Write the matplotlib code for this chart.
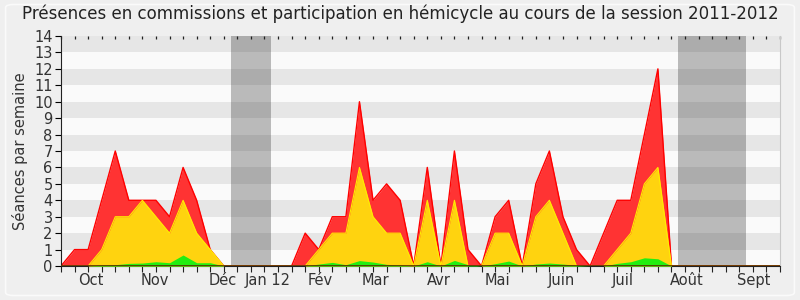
"""Présences en commissions et hémicycle, session 2011-2012."""

import matplotlib
matplotlib.use("Agg")
import matplotlib.pyplot as plt
from matplotlib.lines import TICKDOWN
from matplotlib.patches import FancyBboxPatch

# ── Données (séances par semaine) ─────────────────────────────────────────────
semaines = list(range(54))
commission = [0, 1, 1, 4, 7, 4, 4, 4, 3, 6, 4, 1, 0, 0, 0, 0, 0, 0, 2, 1,
              3, 3, 10, 4, 5, 4, 0, 6, 0, 7, 1, 0, 3, 4, 0, 5, 7, 3, 1, 0,
              2, 4, 4, 8, 12, 0, 0, 0, 0, 0, 0, 0, 0, 0]
hemicycle = [0, 0, 0, 1, 3, 3, 4, 3, 2, 4, 2, 1, 0, 0, 0, 0, 0, 0, 0, 1,
             2, 2, 6, 3, 2, 2, 0, 4, 0, 4, 0, 0, 2, 2, 0, 3, 4, 2, 0, 0,
             0, 1, 2, 5, 6, 0, 0, 0, 0, 0, 0, 0, 0, 0]
interventions = [0, 0, 0, 0.06, 0.08, 0.16, 0.18, 0.26, 0.2, 0.67, 0.2, 0.2, 0, 0, 0, 0, 0, 0, 0, 0.12,
                 0.22, 0.08, 0.33, 0.24, 0.1, 0.06, 0, 0.26, 0, 0.34, 0.08, 0, 0.14, 0.3, 0, 0.12, 0.18, 0.12, 0.04, 0,
                 0, 0.16, 0.26, 0.5, 0.44, 0, 0, 0, 0, 0, 0, 0, 0, 0]
vacances = [(12.5, 15.5), (45.5, 50.5)]
mois = ["Oct", "Nov", "Déc", "Jan 12", "Fév", "Mar", "Avr", "Mai", "Juin", "Juil", "Août", "Sept"]
mois_pos = [2.2, 6.9, 11.95, 15.2, 19.1, 23.2, 27.85, 32.2, 36.9, 41.4, 46.1, 51.05]

# ── Figure ────────────────────────────────────────────────────────────────────
fig = plt.figure(figsize=(8, 3), dpi=100, facecolor="#efefef")
fig.patches.append(FancyBboxPatch((0.007, 0.015), 0.986, 0.97,
                                  boxstyle="round,pad=0,rounding_size=0.01",
                                  transform=fig.transFigure, fc="none",
                                  ec="#fafafa", lw=1.2))
ax = fig.add_axes([0.07625, 0.1133, 0.89875, 0.7667])
ax.set_facecolor("#fafafa")

# Bandes horizontales
for k in range(1, 14, 2):
    ax.axhspan(k, k + 1, color="#e6e6e6", lw=0, zorder=0)

# Vacances parlementaires
for a, b in vacances:
    ax.axvspan(a, b, color="#282828", alpha=0.3, lw=0, zorder=1)

ax.fill_between(semaines, commission, color="#ff3333", lw=0, zorder=2)
ax.plot(semaines, commission, color="#ff0000", lw=1, zorder=2.1)
ax.fill_between(semaines, hemicycle, color="#ffd30f", lw=0, zorder=3)
ax.plot(semaines, hemicycle, color="#ffee00", lw=0.8, zorder=3.1)
ax.fill_between(semaines, interventions, color="#22ee11", lw=0, zorder=4)
ax.axhline(0, color="#5a2a00", lw=1.2, zorder=5)

ax.set_xlim(0, 53)
ax.set_ylim(0, 14)
ax.set_yticks(range(15))
ax.set_xticks(semaines)
ax.set_xticklabels([])
ax.set_xticks(mois_pos, minor=True)
ax.set_xticklabels(mois, minor=True)
ax.tick_params(axis="x", which="major", direction="out", length=4, width=0.8,
               color="#222222", top=True)
ax.tick_params(axis="x", which="minor", length=0, pad=5, labelsize=10.5,
               labelcolor="#333333")
ax.tick_params(axis="y", direction="out", length=4, width=0.8, pad=2,
               labelsize=10.5, labelcolor="#333333")
# petits traits vers l'intérieur en haut
for t in ax.xaxis.get_major_ticks():
    t.tick2line.set_marker(TICKDOWN)
    t.tick2line.set_markersize(2.5)
    t.tick2line.set_markeredgewidth(0.9)

ax.spines["top"].set_visible(False)
ax.spines["right"].set_color("#c8c8c8")
ax.spines["left"].set_color("#222222")
ax.spines["bottom"].set_color("#222222")

ax.set_ylabel("Séances par semaine", fontsize=10.5, color="#333333", labelpad=4)
fig.text(0.5, 0.955, "Présences en commissions et participation en hémicycle au cours de la session 2011-2012",
         ha="center", va="center", fontsize=12, color="#222222")

fig.savefig("out.png", dpi=100, facecolor=fig.get_facecolor())
